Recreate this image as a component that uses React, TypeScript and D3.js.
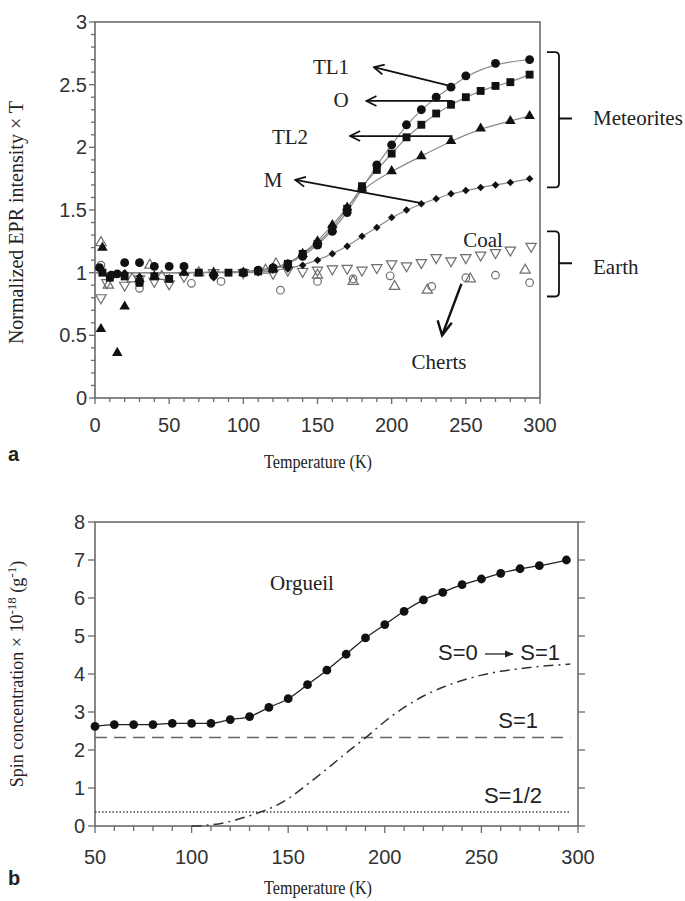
import React from 'react';
import * as d3 from 'd3';

// ---------- Panel a data ----------
const tempTL1 = [3, 11, 15, 20, 30, 40, 50, 60, 80, 100, 110, 120, 130, 140, 150, 160, 170, 180, 190, 200, 210, 220, 230, 240, 250, 270, 293];
const valTL1 = [1.04, 0.98, 0.99, 1.08, 1.08, 1.05, 1.05, 1.05, 0.98, 1.0, 1.02, 1.04, 1.07, 1.13, 1.22, 1.33, 1.48, 1.67, 1.86, 2.02, 2.18, 2.3, 2.4, 2.48, 2.57, 2.67, 2.7];

const tempO = [5, 10, 20, 30, 40, 50, 70, 90, 100, 110, 120, 130, 140, 150, 160, 170, 180, 190, 200, 210, 220, 230, 240, 250, 260, 270, 280, 293];
const valO = [1.0, 0.96, 0.97, 0.92, 0.97, 0.95, 1.0, 1.0, 1.0, 1.01, 1.03, 1.07, 1.15, 1.23, 1.35, 1.51, 1.69, 1.82, 1.95, 2.08, 2.18, 2.27, 2.34, 2.4, 2.45, 2.49, 2.52, 2.58];

const tempTL2 = [4, 5, 15, 20, 30, 40, 60, 80, 100, 120, 130, 140, 150, 160, 170, 180, 200, 220, 240, 260, 280, 293];
const valTL2 = [0.55, 1.2, 0.36, 0.73, 0.95, 0.97, 1.0, 1.0, 1.0, 1.03, 1.06, 1.15, 1.25, 1.38, 1.52, 1.67, 1.81, 1.93, 2.05, 2.15, 2.21, 2.25];

const tempM = [5, 10, 20, 30, 40, 50, 60, 80, 100, 110, 120, 130, 140, 150, 160, 170, 180, 190, 200, 210, 220, 230, 240, 250, 260, 270, 280, 293];
const valM = [1.02, 0.98, 1.0, 0.97, 0.98, 0.96, 1.0, 0.96, 1.0, 1.0, 1.02, 1.03, 1.06, 1.1, 1.15, 1.21, 1.29, 1.36, 1.44, 1.5, 1.55, 1.59, 1.63, 1.655, 1.68, 1.7, 1.72, 1.75];

const tempCoal = [4, 8, 20, 30, 40, 50, 60, 80, 100, 120, 130, 140, 150, 160, 170, 180, 190, 200, 210, 220, 230, 240, 250, 260, 270, 280, 294];
const valCoal = [0.8, 0.92, 0.9, 0.95, 0.93, 0.91, 0.97, 1.0, 1.0, 0.995, 1.02, 1.01, 1.02, 1.03, 1.035, 1.02, 1.04, 1.07, 1.055, 1.08, 1.12, 1.095, 1.12, 1.14, 1.16, 1.18, 1.21];

const tempChertCirc = [4, 30, 30, 65, 85, 125, 150, 174, 199, 227, 250, 270, 293];
const valChertCirc = [1.06, 0.875, 0.92, 0.915, 0.93, 0.86, 0.93, 0.95, 0.975, 0.89, 0.96, 0.98, 0.92];

const tempChertTri = [4, 9, 25, 37, 45, 70, 115, 122, 150, 174, 202, 224, 253, 290];
const valChertTri = [1.24, 0.9, 0.95, 1.06, 0.97, 1.0, 1.02, 1.07, 0.98, 0.93, 0.89, 0.86, 0.95, 1.02];

const ticksA_X = [0, 50, 100, 150, 200, 250, 300];
const ticksA_Y = [0, 0.5, 1, 1.5, 2, 2.5, 3];

// ---------- Panel b data ----------
const tempOrg = [50, 60, 70, 80, 90, 100, 110, 120, 130, 140, 150, 160, 170, 180, 190, 200, 210, 220, 230, 240, 250, 260, 270, 280, 294];
const valOrg = [2.62, 2.67, 2.67, 2.67, 2.7, 2.7, 2.7, 2.8, 2.88, 3.12, 3.35, 3.72, 4.1, 4.52, 4.95, 5.3, 5.65, 5.95, 6.15, 6.35, 6.5, 6.65, 6.77, 6.85, 7.0];

const tempS01 = [100, 110, 120, 130, 140, 150, 160, 170, 180, 190, 200, 210, 220, 230, 240, 250, 260, 270, 280, 290, 296];
const valS01 = [0.0, 0.03, 0.12, 0.27, 0.45, 0.72, 1.1, 1.5, 1.92, 2.32, 2.75, 3.12, 3.42, 3.65, 3.83, 3.97, 4.07, 4.14, 4.2, 4.24, 4.26];

const levelS1 = 2.33;
const levelSHalf = 0.37;

const ticksB_X = [50, 100, 150, 200, 250, 300];
const ticksB_Y = [0, 1, 2, 3, 4, 5, 6, 7, 8];

const SERIF = "'Liberation Serif', 'Times New Roman', serif";
const SANS = "'Liberation Sans', Arial, sans-serif";

export default function App() {
  const xA = d3.scaleLinear().domain([0, 300]).range([95, 540]);
  const yA = d3.scaleLinear().domain([0, 3]).range([398, 22]);
  const xB = d3.scaleLinear().domain([50, 300]).range([95, 578]);
  const yB = d3.scaleLinear().domain([0, 8]).range([826, 522]);

  const axisColor = '#6b6b6b';
  const labelColor = '#333';
  const tickFont = 20;
  const annFont = 21;

  const pts = (t: number[], v: number[]) => t.map((d, i) => [d, v[i]] as [number, number]);

  const fitLine = (t: number[], v: number[]) => {
    const p = pts(t, v).filter((d) => d[0] >= 100);
    const all: [number, number][] = [[0, 1.0], ...p];
    return d3.line<[number, number]>().x((d) => xA(d[0])).y((d) => yA(d[1])).curve(d3.curveBasis)(all) || '';
  };

  const sym = (type: d3.SymbolType, size: number) => d3.symbol().type(type).size(size)() || '';
  const circleP = sym(d3.symbolCircle, 62);
  const squareP = sym(d3.symbolSquare, 62);
  const triP = sym(d3.symbolTriangle, 48);
  const diamP = sym(d3.symbolSquare, 28);
  const openTriP = sym(d3.symbolTriangle, 46);
  const openCircR = 3.8;

  const orgLine = d3.line<[number, number]>().x((d) => xB(d[0])).y((d) => yB(d[1])).curve(d3.curveMonotoneX)(pts(tempOrg, valOrg)) || '';
  const s01Line = d3.line<[number, number]>().x((d) => xB(d[0])).y((d) => yB(d[1])).curve(d3.curveMonotoneX)(pts(tempS01, valS01)) || '';

  const minorAX = d3.range(0, 301, 10);
  const minorAY = d3.range(0, 3.001, 0.1);
  const minorBX = d3.range(50, 301, 10);

  return (
    <svg width={685} height={901} style={{ position: 'absolute', left: 0, top: 0, background: '#fff' }}>
      <defs>
        <marker id="openArrow" viewBox="0 0 12 12" refX="11" refY="6" markerWidth="12" markerHeight="12" markerUnits="userSpaceOnUse" orient="auto">
          <path d="M1,1 L11,6 L1,11" fill="none" stroke="#111" strokeWidth="1.8" />
        </marker>
        <marker id="smallArrow" viewBox="0 0 10 10" refX="9" refY="5" markerWidth="9" markerHeight="9" markerUnits="userSpaceOnUse" orient="auto">
          <path d="M0,1 L10,5 L0,9 Z" fill="#222" />
        </marker>
      </defs>

      {/* ================= Panel a ================= */}
      <g>
        <rect x={xA(0)} y={yA(3)} width={xA(300) - xA(0)} height={yA(0) - yA(3)} fill="none" stroke={axisColor} strokeWidth={1.6} />
        {minorAX.map((t) => (
          <line key={'ax' + t} x1={xA(t)} x2={xA(t)} y1={yA(0)} y2={yA(0) + (t % 50 === 0 ? 6 : 4)} stroke={axisColor} strokeWidth={1.3} />
        ))}
        {ticksA_X.map((t) => (
          <text key={'axl' + t} x={xA(t)} y={432} textAnchor="middle" fontFamily={SANS} fontSize={tickFont} fill={labelColor}>{t}</text>
        ))}
        {minorAY.map((v, i) => (
          <line key={'ay' + i} x1={xA(0) - (i % 5 === 0 ? 6 : 4)} x2={xA(0)} y1={yA(v)} y2={yA(v)} stroke={axisColor} strokeWidth={1.3} />
        ))}
        {ticksA_Y.map((v) => (
          <text key={'ayl' + v} x={87} y={yA(v) + 7} textAnchor="end" fontFamily={SANS} fontSize={tickFont} fill={labelColor}>{v}</text>
        ))}

        {[[tempTL1, valTL1], [tempO, valO], [tempTL2, valTL2], [tempM, valM]].map((s, i) => (
          <path key={'fit' + i} d={fitLine(s[0], s[1])} fill="none" stroke="#8a8a8a" strokeWidth={1.2} />
        ))}

        {pts(tempCoal, valCoal).map((d, i) => (
          <path key={'coal' + i} d={openTriP} transform={`translate(${xA(d[0])},${yA(d[1])}) rotate(180)`} fill="#fff" stroke="#6e6e6e" strokeWidth={1.2} />
        ))}
        {pts(tempChertCirc, valChertCirc).map((d, i) => (
          <circle key={'chc' + i} cx={xA(d[0])} cy={yA(d[1])} r={openCircR} fill="none" stroke="#6e6e6e" strokeWidth={1.2} />
        ))}
        {pts(tempChertTri, valChertTri).map((d, i) => (
          <path key={'cht' + i} d={openTriP} transform={`translate(${xA(d[0])},${yA(d[1])})`} fill="none" stroke="#6e6e6e" strokeWidth={1.2} />
        ))}

        {pts(tempM, valM).map((d, i) => (
          <path key={'m' + i} d={diamP} transform={`translate(${xA(d[0])},${yA(d[1])}) rotate(45)`} fill="#111" />
        ))}
        {pts(tempTL2, valTL2).map((d, i) => (
          <path key={'tl2' + i} d={triP} transform={`translate(${xA(d[0])},${yA(d[1])})`} fill="#111" />
        ))}
        {pts(tempO, valO).map((d, i) => (
          <path key={'o' + i} d={squareP} transform={`translate(${xA(d[0])},${yA(d[1])})`} fill="#111" />
        ))}
        {pts(tempTL1, valTL1).map((d, i) => (
          <path key={'tl1' + i} d={circleP} transform={`translate(${xA(d[0])},${yA(d[1])})`} fill="#111" />
        ))}

        {/* annotations */}
        <text x={331} y={74} textAnchor="middle" fontFamily={SERIF} fontSize={annFont} fill="#222">TL1</text>
        <line x1={xA(240)} y1={yA(2.48) - 1} x2={xA(188)} y2={yA(2.64)} stroke="#111" strokeWidth={1.8} markerEnd="url(#openArrow)" />
        <text x={341} y={107} textAnchor="middle" fontFamily={SERIF} fontSize={annFont} fill="#222">O</text>
        <line x1={xA(241)} y1={yA(2.37)} x2={xA(183)} y2={yA(2.37)} stroke="#111" strokeWidth={1.8} markerEnd="url(#openArrow)" />
        <text x={290} y={144} textAnchor="middle" fontFamily={SERIF} fontSize={annFont} fill="#222">TL2</text>
        <line x1={xA(241)} y1={yA(2.09)} x2={xA(172)} y2={yA(2.09)} stroke="#111" strokeWidth={1.8} markerEnd="url(#openArrow)" />
        <text x={273} y={187} textAnchor="middle" fontFamily={SERIF} fontSize={annFont} fill="#222">M</text>
        <line x1={xA(222)} y1={yA(1.55)} x2={xA(135)} y2={yA(1.74)} stroke="#111" strokeWidth={1.8} markerEnd="url(#openArrow)" />
        <text x={483} y={247} textAnchor="middle" fontFamily={SERIF} fontSize={annFont} fill="#222">Coal</text>
        <text x={439} y={369} textAnchor="middle" fontFamily={SERIF} fontSize={annFont} fill="#222">Cherts</text>
        <line x1={xA(247)} y1={yA(0.91)} x2={xA(234)} y2={yA(0.5)} stroke="#111" strokeWidth={2.4} />
        <path d={`M${xA(231)},${yA(0.62)} L${xA(234)},${yA(0.5)} L${xA(240.5)},${yA(0.6)}`} fill="none" stroke="#111" strokeWidth={2.4} />

        {/* braces */}
        <path d={`M547,${yA(2.76)} L555,${yA(2.76)} Q559,${yA(2.76)} 559,${yA(2.76) + 4} L559,${yA(1.68) - 4} Q559,${yA(1.68)} 555,${yA(1.68)} L547,${yA(1.68)} M559,${yA(2.23)} L572,${yA(2.23)}`} fill="none" stroke="#111" strokeWidth={1.8} />
        <text x={593} y={125} fontFamily={SERIF} fontSize={annFont} fill="#222">Meteorites</text>
        <path d={`M547,${yA(1.33)} L555,${yA(1.33)} Q559,${yA(1.33)} 559,${yA(1.33) + 4} L559,${yA(0.81) - 4} Q559,${yA(0.81)} 555,${yA(0.81)} L547,${yA(0.81)} M559,${yA(1.075)} L572,${yA(1.075)}`} fill="none" stroke="#111" strokeWidth={1.8} />
        <text x={593} y={274} fontFamily={SERIF} fontSize={annFont} fill="#222">Earth</text>

        <text x={318} y={468} textAnchor="middle" fontFamily={SERIF} fontSize={18} textLength={108} lengthAdjust="spacingAndGlyphs" fill="#222">Temperature (K)</text>
        <text transform={`translate(23,${yA(1.4)}) rotate(-90)`} textAnchor="middle" fontFamily={SERIF} fontSize={20} fill="#222">Normalized EPR intensity × T</text>
        <text x={8} y={461} fontFamily={SANS} fontWeight="bold" fontSize={20} fill="#222">a</text>
      </g>

      {/* ================= Panel b ================= */}
      <g>
        <rect x={xB(50)} y={yB(8)} width={xB(300) - xB(50)} height={yB(0) - yB(8)} fill="none" stroke={axisColor} strokeWidth={1.6} />
        {minorBX.map((t) => (
          <line key={'bx' + t} x1={xB(t)} x2={xB(t)} y1={yB(0)} y2={yB(0) + (t % 50 === 0 ? 7 : 5)} stroke={axisColor} strokeWidth={1.3} />
        ))}
        {ticksB_X.map((t) => (
          <text key={'bxl' + t} x={xB(t)} y={864} textAnchor="middle" fontFamily={SANS} fontSize={tickFont} fill={labelColor}>{t}</text>
        ))}
        {ticksB_Y.map((v) => (
          <g key={'by' + v}>
            <line x1={xB(50) - 7} x2={xB(50)} y1={yB(v)} y2={yB(v)} stroke={axisColor} strokeWidth={1.3} />
            <line x1={xB(300)} x2={xB(300) + 7} y1={yB(v)} y2={yB(v)} stroke={axisColor} strokeWidth={1.3} />
            <text x={85} y={yB(v) + 7} textAnchor="end" fontFamily={SANS} fontSize={tickFont} fill={labelColor}>{v}</text>
          </g>
        ))}

        <line x1={xB(50)} x2={xB(296)} y1={yB(levelS1)} y2={yB(levelS1)} stroke="#666" strokeWidth={1.5} strokeDasharray="12,7" />
        <line x1={xB(50)} x2={xB(296)} y1={yB(levelSHalf)} y2={yB(levelSHalf)} stroke="#444" strokeWidth={1.4} strokeDasharray="1.5,2" />
        <path d={s01Line} fill="none" stroke="#333" strokeWidth={1.5} strokeDasharray="10,5,2,5" />
        <path d={orgLine} fill="none" stroke="#222" strokeWidth={1.3} />
        {pts(tempOrg, valOrg).map((d, i) => (
          <circle key={'org' + i} cx={xB(d[0])} cy={yB(d[1])} r={4.4} fill="#111" />
        ))}

        <text x={302} y={590} textAnchor="middle" fontFamily={SERIF} fontSize={annFont} fill="#222">Orgueil</text>
        <text x={438} y={660} fontFamily={SANS} fontSize={22} fill="#222">S=0</text>
        <line x1={485} x2={513} y1={654} y2={654} stroke="#222" strokeWidth={1.3} markerEnd="url(#smallArrow)" />
        <text x={560} y={660} textAnchor="end" fontFamily={SANS} fontSize={22} fill="#222">S=1</text>
        <text x={538} y={728} textAnchor="end" fontFamily={SANS} fontSize={22} fill="#222">S=1</text>
        <text x={542} y={803} textAnchor="end" fontFamily={SANS} fontSize={22} fill="#222">S=1/2</text>

        <text x={318} y={894} textAnchor="middle" fontFamily={SERIF} fontSize={18} textLength={108} lengthAdjust="spacingAndGlyphs" fill="#222">Temperature (K)</text>
        <text transform={`translate(23,${yB(4)}) rotate(-90)`} textAnchor="middle" fontFamily={SERIF} fontSize={18} fill="#222">
          Spin concentration × 10<tspan dy={-7} fontSize={13}>-18</tspan><tspan dy={7}> (g</tspan><tspan dy={-7} fontSize={13}>-1</tspan><tspan dy={7}>)</tspan>
        </text>
        <text x={8} y={885} fontFamily={SANS} fontWeight="bold" fontSize={20} fill="#222">b</text>
      </g>
    </svg>
  );
}
